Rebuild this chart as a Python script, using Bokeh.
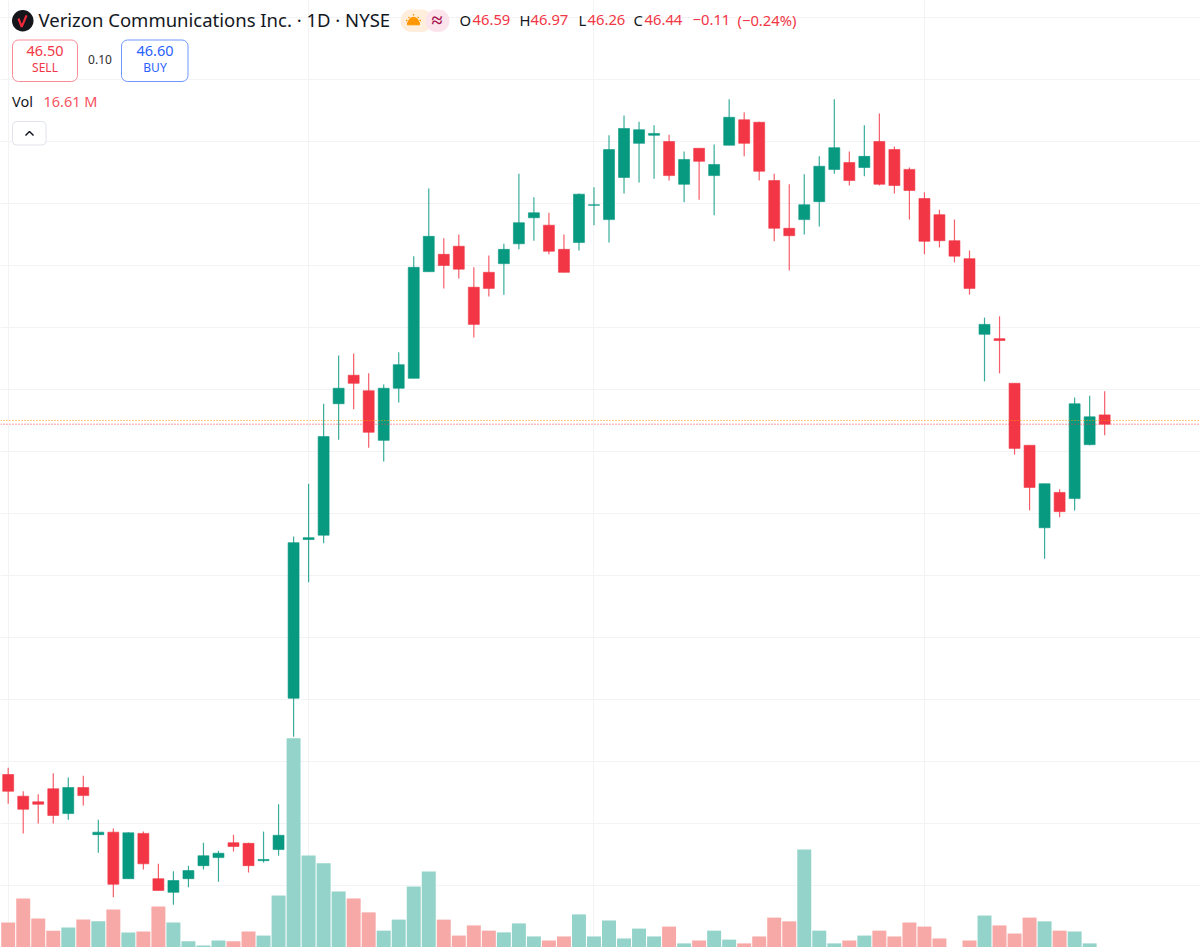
from math import pi
from bokeh.embed import file_html
from bokeh.models import BoxAnnotation, ColumnDataSource, FixedTicker, Label, Range1d, Span
from bokeh.plotting import figure
from bokeh.resources import INLINE

opens = [40.79,40.44,40.35,40.56,40.16,40.58,39.82,39.86,39.11,39.84,39.11,38.89,39.11,39.32,39.45,39.69,39.68,39.40,39.58,
         42.02,44.58,44.65,46.77,47.23,46.98,46.18,47.02,47.18,48.90,49.18,49.31,48.65,48.89,49.03,49.35,49.77,49.65,49.26,
         49.37,49.97,49.74,50.42,50.97,51.10,51.00,50.31,50.89,50.45,50.94,51.35,51.31,50.37,49.60,49.74,50.03,50.55,50.66,
         50.58,51.00,50.87,50.55,50.08,49.82,49.40,49.11,47.89,47.82,47.10,46.10,44.77,45.34,45.24,46.11,46.59]
highs = [40.90,40.52,40.47,40.81,40.74,40.77,40.06,39.92,39.86,39.87,39.35,39.23,39.32,39.69,39.56,39.82,39.69,39.87,40.31,
         44.63,45.48,46.77,47.55,47.58,47.26,47.08,47.60,49.15,50.24,49.44,49.50,48.97,49.16,49.35,50.48,50.10,49.85,49.50,
         50.16,50.26,51.10,51.42,51.32,51.26,51.11,50.84,50.89,50.95,51.68,51.47,51.32,50.48,50.31,50.47,50.76,51.68,50.84,
         51.26,51.45,50.92,50.58,50.18,49.90,49.74,49.24,48.16,48.18,47.10,46.10,45.48,45.39,46.87,46.90,46.97]
lows = [40.32,39.84,40.00,40.00,40.06,40.29,39.53,38.81,39.11,39.26,38.92,38.69,38.97,39.26,39.06,39.55,39.21,39.37,39.48,
        41.40,43.89,44.52,46.19,46.68,46.06,45.84,46.79,47.18,48.90,48.63,48.79,47.84,48.50,48.53,49.26,49.40,49.18,48.89,
        49.24,49.65,49.37,50.16,50.34,50.40,50.37,50.02,50.06,49.81,50.94,50.76,50.37,49.39,48.92,49.50,49.63,50.48,50.29,
        50.44,50.29,50.16,49.74,49.18,49.29,49.05,48.53,47.13,47.26,45.95,45.05,44.27,44.94,45.05,46.10,46.26]
closes = [40.52,40.23,40.31,40.13,40.58,40.45,39.86,39.02,39.85,39.35,38.92,39.08,39.24,39.48,39.52,39.63,39.32,39.42,39.81,
          44.53,44.61,46.24,47.02,47.10,46.31,47.02,47.40,48.97,49.47,49.00,48.94,48.05,48.63,49.26,49.69,49.85,49.23,48.89,
          50.15,49.98,50.87,51.21,51.19,51.13,50.45,50.71,50.68,50.63,51.39,50.97,50.52,49.60,49.48,49.98,50.60,50.90,50.37,
          50.76,50.31,50.29,50.21,49.39,49.40,49.15,48.63,48.05,47.79,46.05,45.42,45.48,45.03,46.77,46.56,46.44]
volumes = [26.2,34.5,27.6,23.4,24.5,27.2,26.6,30.7,22.8,23.1,31.7,26.2,19.7,18.3,20.0,19.7,23.1,21.7,35.5,
           89.7,49.3,46.6,36.9,34.5,29.7,23.4,27.2,38.6,43.8,27.2,21.7,25.2,23.4,22.8,25.9,21.4,20.0,21.4,
           29.0,21.4,26.9,20.7,24.1,21.4,24.8,19.0,20.0,23.4,20.3,19.0,21.4,27.9,26.6,51.4,23.4,19.0,20.0,
           21.7,23.4,21.4,26.2,24.8,20.7,17.2,20.0,28.6,25.2,22.4,27.9,26.6,23.4,23.1,19.0,16.61]
bid_price = 46.50
last_price = 46.44
price_grid = list(range(38, 55))
time_grid = [0, 20, 39, 61]

GREEN, RED = "#089981", "#F23645"
VOL_GREEN, VOL_RED = "#94D3CA", "#F7A9A7"

idx = list(range(len(opens)))
up = [c >= o for o, c in zip(opens, closes)]
src = ColumnDataSource(dict(
    x=idx, o=opens, h=highs, l=lows, c=closes, v=volumes,
    top=[max(o, c) for o, c in zip(opens, closes)],
    bottom=[min(o, c) for o, c in zip(opens, closes)],
    color=[GREEN if u else RED for u in up],
    vcolor=[VOL_GREEN if u else VOL_RED for u in up],
    zero=[0] * len(idx),
))

p = figure(width=1200, height=947, output_backend="svg", toolbar_location=None,
           x_range=Range1d(-0.5126, 79.38), y_range=Range1d(38.0, 53.274),
           min_border=0, min_border_left=0, min_border_right=0, min_border_top=0, min_border_bottom=0,
           outline_line_color=None, background_fill_color="white", border_fill_color="white")
p.extra_y_ranges = {"vol": Range1d(17.586, 344.1), "py": Range1d(947, 0)}
p.extra_x_ranges = {"px": Range1d(0, 1200)}
p.xaxis.visible = False
p.yaxis.visible = False
p.ygrid.ticker = FixedTicker(ticks=price_grid)
p.xgrid.ticker = FixedTicker(ticks=time_grid)
p.grid.grid_line_color = "#F3F3F5"
p.grid.grid_line_width = 1

p.vbar(x="x", top="v", bottom="zero", width=0.93, fill_color="vcolor", line_color=None, y_range_name="vol", source=src)
p.segment(x0="x", x1="x", y0="l", y1="h", line_color="color", line_width=1.2, line_alpha=0.8, source=src)
p.vbar(x="x", top="top", bottom="bottom", width=0.73, fill_color="color", line_color="color",
       line_width=0.6, source=src)

p.add_layout(Span(location=bid_price, dimension="width", line_color="#FF9800", line_alpha=1,
                  line_dash=[1, 2], line_width=1))
p.add_layout(Span(location=last_price, dimension="width", line_color=RED, line_alpha=1,
                  line_dash=[1, 2], line_width=1))

FONT = "Noto Sans"


def text(x, y, s, color="#131722", size=14, align="left", style="normal"):
    p.add_layout(Label(x=x, y=y - 1.5, text=s, x_range_name="px", y_range_name="py", text_color=color,
                       text_font=FONT, text_font_size=f"{size}px", text_align=align,
                       text_baseline="middle", text_font_style=style))


def box(l, r, t, b, fill, line=None, radius=6, width=1):
    p.add_layout(BoxAnnotation(left=l, right=r, top=t, bottom=b, x_range_name="px", y_range_name="py",
                               fill_color=fill, fill_alpha=1, line_color=line, line_alpha=1 if line else 0,
                               line_width=width, border_radius=radius, level="underlay"))


# logo
box(11.5, 33, 9.5, 31, "#14161C", radius=11)
p.line([18.0, 21.2, 26.0], [18.0, 26.4, 14.8], x_range_name="px", y_range_name="py",
       line_color="#F2293A", line_width=2.2, level="overlay")
text(38, 20.5, "Verizon Communications Inc. · 1D · NYSE", size=18.5)

# session and data-status pills
box(400, 432, 9, 31.5, "#FFEEDB", radius=11)
box(425, 449, 9, 31.5, "#FCE4EC", radius=11)
p.wedge(x=[413], y=[22], radius=5.2, start_angle=0, end_angle=pi, direction="anticlock",
        x_range_name="px", y_range_name="py", color="#FF9800", level="overlay")
p.rect(x=[413], y=[23.2], width=12, height=2.2, x_range_name="px", y_range_name="py",
       color="#FF9800", level="overlay")
p.segment(x0=[405.5, 408, 413, 418, 420.5], y0=[20, 16.5, 15, 16.5, 20],
          x1=[407, 409, 413, 417, 419], y1=[20, 17.5, 13.5, 17.5, 20],
          x_range_name="px", y_range_name="py", line_color="#FF9800", line_width=1.3, level="overlay")
text(436.5, 20, "≈", color="#A8174F", size=20, align="center", style="bold")

# OHLC
for x, s, c in [(459, "O", "#131722"), (472, "46.59", RED), (519, "H", "#131722"), (530, "46.97", RED),
                (578, "L", "#131722"), (587, "46.26", RED), (633, "C", "#131722"), (644, "46.44", RED),
                (692, "−0.11", RED), (737, "(−0.24%)", RED)]:
    text(x, 20.5, s, color=c, size=14.8)

# buy and sell buttons
box(12, 77, 39.5, 81, "white", "#F88D97", radius=6, width=1)
box(121, 187.5, 39.5, 81, "white", "#7097FF", radius=6, width=1)
text(44.5, 52, "46.50", color=RED, size=14.5, align="center")
text(44.5, 68, "SELL", color=RED, size=12, align="center")
text(99.5, 60.5, "0.10", color="#2E2E2E", size=12, align="center")
text(154.5, 52, "46.60", color="#2962FF", size=14.5, align="center")
text(154.5, 68, "BUY", color="#2962FF", size=12, align="center")

# volume legend and collapse button
text(11.5, 101.5, "Vol", size=14.5)
text(43, 101.5, "16.61 M", color="#F7525F", size=14.5)
box(12, 45.5, 121, 144.5, "white", "#E0E3EB", radius=4, width=1)
p.line([25, 29, 33], [135, 131, 135], x_range_name="px", y_range_name="py",
       line_color="#131722", line_width=1.5, level="overlay")

open("out.html", "w").write(file_html(p, INLINE))
